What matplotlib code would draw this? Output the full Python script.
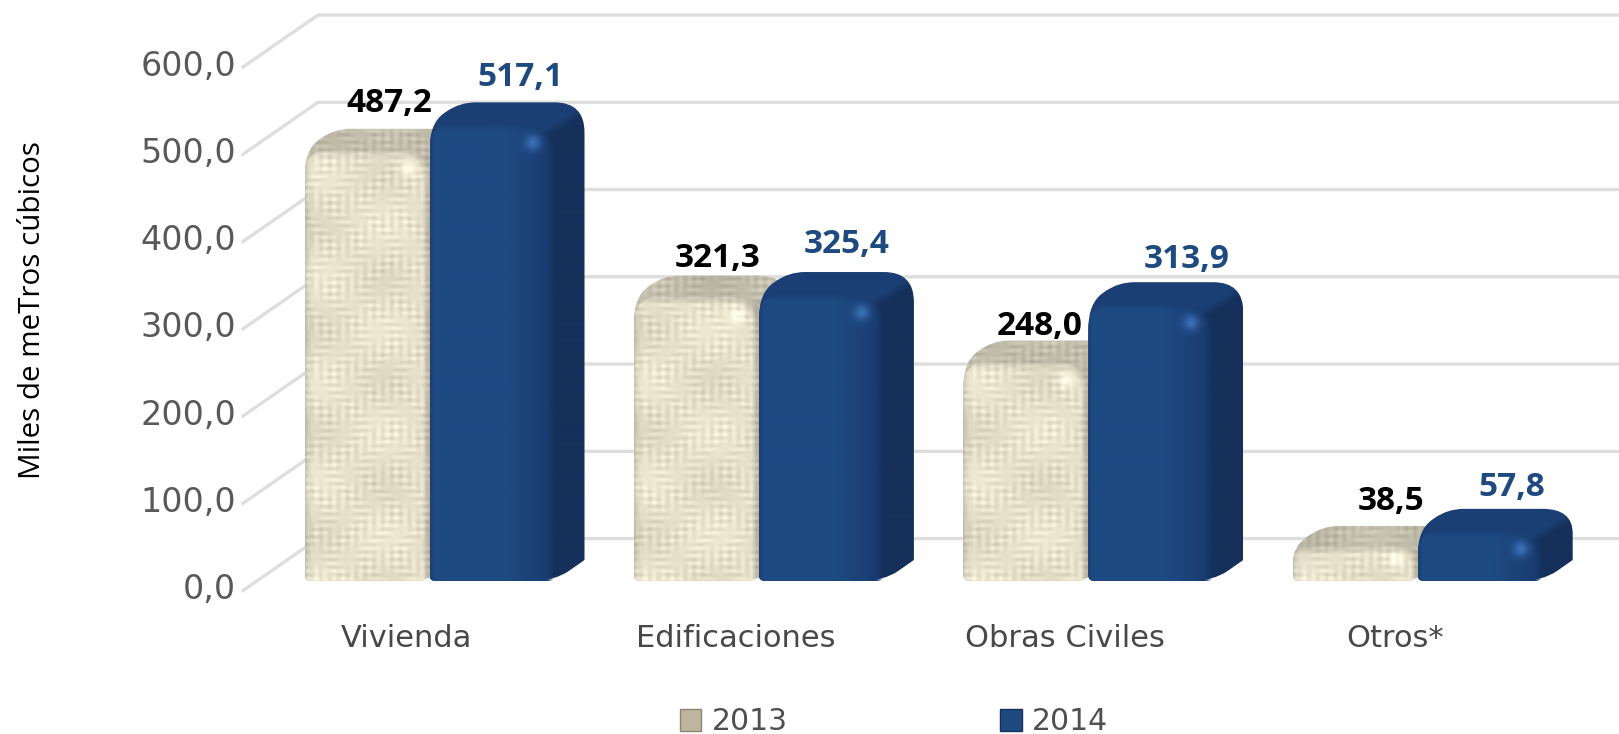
import matplotlib
matplotlib.use('Agg')
import matplotlib.pyplot as plt
import numpy as np
from matplotlib.colors import to_rgb
from matplotlib.path import Path
from matplotlib.patches import PathPatch, Patch

categories = ['Vivienda', 'Edificaciones', 'Obras Civiles', 'Otros*']
vals_2013 = [487.2, 321.3, 248.0, 38.5]
vals_2014 = [517.1, 325.4, 313.9, 57.8]
labels_2013 = ['487,2', '321,3', '248,0', '38,5']
labels_2014 = ['517,1', '325,4', '313,9', '57,8']
yticks = [0, 100, 200, 300, 400, 500, 600]
ytick_labels = ['0,0', '100,0', '200,0', '300,0', '400,0', '500,0', '600,0']

W, H = 1619, 734
BLUE = '#1f4a80'
GREY = '#595959'

plt.rcParams['font.family'] = ['DejaVu Sans']
fig = plt.figure(figsize=(W / 100, H / 100), dpi=100)

# wall axes, x in pixels, y in value units (front end of the gridlines)
ax_wall = fig.add_axes([0, 0, 1, 1])
wall_scale = (590.6 - 67) / 600
ax_wall.set_xlim(0, W)
ax_wall.set_ylim((590.6 - H) / wall_scale, 590.6 / wall_scale)
ax_wall.axis('off')
wall_dx = 75
wall_dy = 52 / wall_scale
for v, lab in zip(yticks, ytick_labels):
    ax_wall.plot([243, 243 + wall_dx, W], [v, v + wall_dy, v + wall_dy], color='#dedede', lw=2.4, zorder=1)
    ax_wall.text(236, v + 1, lab, ha='right', va='center', fontsize=24, color=GREY)

ax_wall.text(33, 322, 'Miles de meTros cúbicos', rotation=90, ha='center', va='center',
             fontsize=21.3, family='Open Sans', color='black')

# bar axes: category index on x, value on y
ax = fig.add_axes([0, 0, 1, 1])
ax.patch.set_alpha(0)
px_x = 329.4
px_y = 0.885
base_px = 581
x0_px = 429.5
xlim = (-x0_px / px_x, (W - x0_px) / px_x)
ylim = ((base_px - H) / px_y, base_px / px_y)
ax.axis('off')

bar_w = 125 / px_x
depth_x = 30 / px_x
depth_y = 21 / px_y


def rounded(pts, radii):
    # closed path through the corners, each rounded by a radius in pixels
    verts, codes = [], []
    n = len(pts)
    for i in range(n):
        p = np.array(pts[i])
        a = np.array(pts[i - 1])
        b = np.array(pts[(i + 1) % n])
        r = radii[i]
        to_a = (a - p) * [px_x, px_y]
        to_b = (b - p) * [px_x, px_y]
        ra = min(r, np.hypot(*to_a) * 0.48)
        rb = min(r, np.hypot(*to_b) * 0.48)
        pa = p + to_a / max(np.hypot(*to_a), 1e-6) * ra / [px_x, px_y]
        pb = p + to_b / max(np.hypot(*to_b), 1e-6) * rb / [px_x, px_y]
        verts.append(pa)
        codes.append(Path.MOVETO if i == 0 else Path.LINETO)
        verts += [p, pb]
        codes += [Path.CURVE3, Path.CURVE3]
    verts.append(verts[0])
    codes.append(Path.CLOSEPOLY)
    return Path(np.array(verts), codes)


def paint(arr, x, y, w, h, clip, z):
    im = ax.imshow(arr, extent=(x, x + w, y, y + h), origin='lower', aspect='auto',
                   interpolation='bilinear', zorder=z)
    im.set_clip_path(PathPatch(clip, transform=ax.transData))


def weave(nx, ny):
    # woven cloth look, sine stripes that come and go
    xx, yy = np.meshgrid(np.arange(nx), np.arange(ny))
    a = np.sin(yy * 0.83) * (0.5 + 0.5 * np.sin(xx * 0.19 + 3 * np.sin(yy * 0.071)))
    b = np.sin(xx * 0.71) * (0.5 + 0.5 * np.sin(yy * 0.15 + 2 * np.sin(xx * 0.053)))
    c = np.sin(xx * 0.047 + 1) * np.sin(yy * 0.061 + 2)
    return 0.7 * a + 0.5 * b + 0.4 * c


def face_alpha(nx, ny, r, soft):
    # soft edged rounded face, hard on the left and the bottom
    xx, yy = np.meshgrid(np.arange(nx) + 0.5, np.arange(ny) + 0.5)
    dx = np.maximum(xx - (nx - r), 0)
    dy = np.maximum(yy - (ny - r), 0)
    edge = r - np.hypot(dx, dy)
    return np.clip(edge / soft, 0, 1)


def draw_bar(xc, v, style, z):
    h = v
    r_top = min(26, h * px_y * 0.48)
    front = [(xc, 0), (xc, h), (xc + bar_w, h), (xc + bar_w, 0)]
    shell = [(xc, 0), (xc, h), (xc + depth_x, h + depth_y), (xc + bar_w + depth_x, h + depth_y),
             (xc + bar_w + depth_x, depth_y), (xc + bar_w, 0)]
    shell_path = rounded(shell, [6, r_top, 16, 30, 1, 24])
    front_path = rounded(front, [6, r_top, r_top, 6])
    nx = max(int(bar_w * px_x), 2)
    ny = max(int(h * px_y), 2)
    sx = int((bar_w + depth_x) * px_x)
    sy = int((h + depth_y) * px_y)
    u = np.linspace(0, 1, nx)
    xx, yy = np.meshgrid(np.arange(nx), np.arange(ny))
    spot_y = (ny - 20) if ny > 40 else ny * 0.62
    spot = np.exp(-((xx - nx * 0.82) ** 2 + (yy - spot_y) ** 2) / 60.0)[:, :, None]
    # which part of the shell is top rather than side
    sxx, syy = np.meshgrid(np.arange(sx), np.arange(sy))
    top = np.clip((syy - (sy - 21 - 4) + (nx + 10 - sxx) * 0.6) / 10, 0, 1)[:, :, None]
    alpha = face_alpha(nx, ny, r_top, 8)[:, :, None]
    if style == 2014:
        c_side = np.array(to_rgb('#15305a'))
        c_top = np.array(to_rgb('#1b3f74'))
        paint(c_side * (1 - top) + c_top * top, xc, 0, bar_w + depth_x, h + depth_y, shell_path, z)
        base = np.array(to_rgb('#1e4a82'))
        dark = np.array(to_rgb('#17366a'))
        k = np.clip((u - 0.62) / 0.38, 0, 1)[None, :, None] * 0.8 + np.clip((0.04 - u) / 0.04, 0, 1)[None, :, None] * 0.5
        arr = np.repeat(base[None, None, :] * (1 - k) + dark[None, None, :] * k, ny, axis=0)
        arr = np.clip(arr + spot * np.array([0.12, 0.18, 0.24]), 0, 1)
    else:
        s = weave(sx, sy)[:, :, None]
        light = np.array(to_rgb('#e7e0cb'))
        shade = light * 0.84 * (top * 1.0 + (1 - top) * 0.94)
        paint(np.clip(shade + s * 0.07, 0, 1), xc, 0, bar_w + depth_x, h + depth_y, shell_path, z)
        s = weave(nx, ny)[:, :, None]
        edge = np.minimum(u / 0.05, 1)[None, :, None] * 0.14 + 0.86
        arr = light[None, None, :] * edge + s * 0.075
        arr = np.clip(arr + spot * 0.12, 0, 1)
    rgba = np.concatenate([arr, alpha], axis=2)
    paint(rgba, xc, 0, bar_w, h, front_path, z + 0.1)


label_dx_2013 = [-0.121, -0.124, -0.149, -0.080]
label_dx_2014 = [0.276, 0.266, 0.298, 0.285]
label_dy_2013 = [52.7, 43, 40, 51.5]
label_dy_2014 = [51.5, 55, 49, 48]

for i in range(len(categories)):
    draw_bar(i - bar_w, vals_2013[i], 2013, 3 + i)
    draw_bar(i, vals_2014[i], 2014, 3.5 + i)
    ax.text(i + label_dx_2013[i], vals_2013[i] + label_dy_2013[i], labels_2013[i], ha='center', va='center',
            fontsize=24, fontweight='bold', family='Open Sans', color='black', zorder=10)
    ax.text(i + label_dx_2014[i], vals_2014[i] + label_dy_2014[i], labels_2014[i], ha='center', va='center',
            fontsize=24, fontweight='bold', family='Open Sans', color=BLUE, zorder=10)
    ax.text(i - 0.07, -65.5, categories[i], ha='center', va='center', fontsize=22, color='#484848')

ax.set_xlim(*xlim)
ax.set_ylim(*ylim)

handles = [Patch(facecolor='#bdb59d', edgecolor='#8c8570', label='2013'),
           Patch(facecolor=BLUE, edgecolor='#16305a', label='2014')]
fig.legend(handles=handles, loc='center', bbox_to_anchor=(894 / W, 1 - 722 / H), ncol=2, frameon=False,
           fontsize=21.5, labelcolor='#505050', handlelength=0.72, handleheight=0.72, handletextpad=0.35,
           columnspacing=7.13, borderpad=0)

fig.savefig('out.png', dpi=100, facecolor='white')
